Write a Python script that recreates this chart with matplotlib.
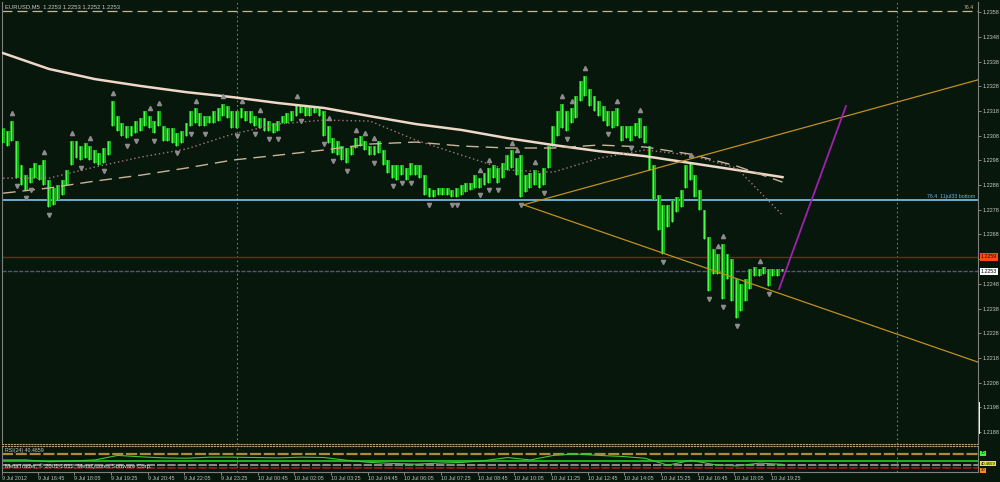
import matplotlib
matplotlib.use("Agg")
import matplotlib.pyplot as plt
import matplotlib.transforms as mtransforms
import numpy as np

plt.rcParams['font.family'] = ['Liberation Sans', 'DejaVu Sans']

# EURUSD M5, bar offsets counted from 10 Jul 2012 00:00
first_bar = -102
bar_step = 2  # one entry per 10 minutes

highs = [1.2311, 1.2310, 1.2314, 1.2306, 1.2296, 1.2292, 1.2295, 1.2297, 1.2296, 1.2298,
         1.2290, 1.2287, 1.2288, 1.2290, 1.2294, 1.2306, 1.2306, 1.2304, 1.2305, 1.2304,
         1.2302, 1.2301, 1.2303, 1.2306, 1.2322, 1.2316, 1.2313, 1.2312, 1.2312, 1.2314,
         1.2315, 1.2318, 1.2316, 1.2314, 1.2318, 1.2312, 1.2311, 1.2311, 1.2309, 1.2310,
         1.2313, 1.2318, 1.2319, 1.2317, 1.2316, 1.2316, 1.2318, 1.2319, 1.2321, 1.2320,
         1.2318, 1.2318, 1.2319, 1.2318, 1.2318, 1.2316, 1.2315, 1.2315, 1.2314, 1.2313,
         1.2314, 1.2316, 1.2317, 1.2318, 1.2321, 1.2320, 1.2320, 1.2320, 1.2320, 1.2319,
         1.2318, 1.2312, 1.2307, 1.2306, 1.2304, 1.2303, 1.2304, 1.2307, 1.2308, 1.2306,
         1.2304, 1.2304, 1.2306, 1.2302, 1.2298, 1.2296, 1.2296, 1.2296, 1.2295, 1.2297,
         1.2296, 1.2296, 1.2292, 1.2287, 1.2286, 1.2287, 1.2287, 1.2287, 1.2286, 1.2287,
         1.2288, 1.2289, 1.2289, 1.2292, 1.2291, 1.2293, 1.2295, 1.2296, 1.2295, 1.2297,
         1.2300, 1.2302, 1.2299, 1.2300, 1.2292, 1.2293, 1.2294, 1.2293, 1.2295, 1.2304,
         1.2312, 1.2318, 1.2321, 1.2318, 1.2319, 1.2324, 1.2330, 1.2332, 1.2327, 1.2324,
         1.2322, 1.2320, 1.2318, 1.2318, 1.2319, 1.2312, 1.2312, 1.2312, 1.2313, 1.2315,
         1.2312, 1.2304, 1.2296, 1.2284, 1.2280, 1.2280, 1.2282, 1.2283, 1.2286, 1.2296,
         1.2297, 1.2292, 1.2286, 1.2278, 1.2267, 1.2262, 1.2260, 1.2264, 1.2260, 1.2258,
         1.2250, 1.2248, 1.2250, 1.2254, 1.2255, 1.2254, 1.2255, 1.2254, 1.2254, 1.2254,
         1.2254]
lows = [1.2305, 1.2304, 1.2306, 1.2291, 1.2288, 1.2286, 1.2289, 1.2291, 1.2290, 1.2288,
        1.2279, 1.2280, 1.2282, 1.2284, 1.2288, 1.2296, 1.2299, 1.2298, 1.2299, 1.2298,
        1.2297, 1.2296, 1.2297, 1.2300, 1.2312, 1.2310, 1.2308, 1.2307, 1.2308, 1.2309,
        1.2310, 1.2312, 1.2311, 1.2309, 1.2312, 1.2306, 1.2306, 1.2305, 1.2304, 1.2305,
        1.2308, 1.2312, 1.2313, 1.2312, 1.2312, 1.2313, 1.2313, 1.2314, 1.2316, 1.2315,
        1.2311, 1.2311, 1.2315, 1.2314, 1.2313, 1.2312, 1.2311, 1.2310, 1.2310, 1.2309,
        1.2310, 1.2313, 1.2313, 1.2314, 1.2316, 1.2317, 1.2316, 1.2316, 1.2317, 1.2316,
        1.2308, 1.2305, 1.2301, 1.2300, 1.2298, 1.2297, 1.2300, 1.2303, 1.2304, 1.2302,
        1.2300, 1.2300, 1.2301, 1.2296, 1.2293, 1.2291, 1.2290, 1.2292, 1.2290, 1.2292,
        1.2292, 1.2291, 1.2284, 1.2283, 1.2283, 1.2284, 1.2284, 1.2284, 1.2283, 1.2283,
        1.2284, 1.2285, 1.2286, 1.2287, 1.2287, 1.2288, 1.2289, 1.2291, 1.2289, 1.2291,
        1.2294, 1.2295, 1.2292, 1.2283, 1.2285, 1.2287, 1.2288, 1.2287, 1.2288, 1.2295,
        1.2304, 1.2308, 1.2311, 1.2310, 1.2313, 1.2315, 1.2322, 1.2324, 1.2320, 1.2318,
        1.2316, 1.2314, 1.2312, 1.2311, 1.2312, 1.2306, 1.2307, 1.2306, 1.2308, 1.2307,
        1.2305, 1.2294, 1.2282, 1.2270, 1.2260, 1.2271, 1.2273, 1.2277, 1.2279, 1.2287,
        1.2290, 1.2283, 1.2278, 1.2266, 1.2245, 1.2252, 1.2252, 1.2242, 1.2250, 1.2241,
        1.2234, 1.2237, 1.2241, 1.2246, 1.2251, 1.2251, 1.2252, 1.2247, 1.2251, 1.2251,
        1.2253]

# moving averages, one sample every 10 entries
ma_step = 10
ma_slow = [1.23414, 1.23350, 1.23309, 1.23281, 1.23256, 1.23236, 1.23212, 1.23192, 1.23159,
           1.23127, 1.23103, 1.23070, 1.23042, 1.23017, 1.22997, 1.22969, 1.22941, 1.22912]
ma_mid = [1.22847, 1.22868, 1.22896, 1.22920, 1.22949, 1.22981, 1.23001, 1.23022, 1.23046,
          1.23054, 1.23038, 1.23030, 1.23030, 1.23042, 1.23034, 1.23005, 1.22957, 1.22892]
ma_fast = [1.22908, 1.22908, 1.22953, 1.22993, 1.23026, 1.23086, 1.23127, 1.23143, 1.23139,
           1.23062, 1.23001, 1.22941, 1.22932, 1.22989, 1.23022, 1.23001, 1.22949, 1.22758]

# RSI(24), one sample every 5 entries
rsi_step = 5
rsi_vals = [53, 53, 48, 50, 53, 66, 62, 59, 58, 61, 61, 60, 59, 61, 60, 52, 46, 43,
            41, 44, 46, 51, 60, 53, 66, 70, 66, 63, 58, 38, 52, 40, 36, 44, 40.47]

# fractal marks (entry indices)
up_fractals = [2, 9, 15, 19, 24, 32, 34, 42, 48, 52, 56, 64, 71, 77, 79, 81, 104, 106,
               111, 112, 116, 122, 124, 127, 134, 139, 150, 156, 157, 165]
down_fractals = [3, 5, 6, 10, 17, 22, 27, 29, 33, 38, 41, 44, 51, 55, 58, 60, 65, 70, 72,
                 75, 81, 85, 87, 89, 93, 98, 99, 104, 106, 108, 113, 118, 123, 132, 137,
                 144, 154, 157, 160, 167]

# drawn objects: (bar, price) anchors
trend_up = [(125, 1.22800), (290, 1.23221)]
trend_down = [(125, 1.22800), (290, 1.22270)]
projection = [(236.5, 1.22459), (265.7, 1.23200)]
level_764 = 1.22819
level_red = 1.22589
bid = 1.2253
fib_top = 1.23585
day_breaks = [0, 288]

price_ticks = [1.2358, 1.2348, 1.2338, 1.2328, 1.2318, 1.2308, 1.2298, 1.2288, 1.2278,
               1.2268, 1.2258, 1.2248, 1.2238, 1.2228, 1.2218, 1.2208, 1.2198, 1.2188]
time_bars = [-102.3, -87, -71, -55, -39, -23, -7, 9, 25, 41, 57, 73, 89, 105, 121, 137,
             153, 169, 185, 201, 217, 233]
time_labels = ['9 Jul 2012', '9 Jul 16:45', '9 Jul 18:05', '9 Jul 19:25', '9 Jul 20:45',
               '9 Jul 22:05', '9 Jul 23:25', '10 Jul 00:45', '10 Jul 02:05', '10 Jul 03:25',
               '10 Jul 04:45', '10 Jul 06:05', '10 Jul 07:25', '10 Jul 08:45', '10 Jul 10:05',
               '10 Jul 11:25', '10 Jul 12:45', '10 Jul 14:05', '10 Jul 15:25', '10 Jul 16:45',
               '10 Jul 18:05', '10 Jul 19:25']

bg = '#07170c'
grey = '#808080'
txt = '#c8c8c8'

fig = plt.figure(figsize=(10, 4.82), dpi=100, facecolor=bg)
ax = fig.add_axes([0.002, 38 / 482, 0.976, 442 / 482], facecolor=bg)
rax = fig.add_axes([0.002, 10 / 482, 0.976, 26 / 482], facecolor=bg, sharex=ax)

# price bars
xs = first_bar + bar_step * np.arange(len(highs))
hi = np.array(highs)
lo = np.array(lows)
ax.bar(xs, hi - lo, bottom=lo, width=1.7, color='#1aa81a', lw=0, zorder=3)
ax.vlines(xs - 0.4, lo, hi, color='#4cff4c', lw=0.7, zorder=4)

# moving averages
ma_x = first_bar + bar_step * ma_step * np.arange(len(ma_slow))
ax.plot(ma_x, ma_slow, color='#efd8c8', lw=1.8, zorder=5)
ax.plot(ma_x, ma_mid, color='#c9b49a', lw=1.0, ls=(0, (9, 5)), zorder=5)
ax.plot(ma_x, ma_fast, color='#a8787a', lw=1.0, ls=(0, (1, 2)), zorder=5)

# fractals
ax.plot(xs[up_fractals], hi[up_fractals] + 0.00032, ls='none', marker='^', ms=3.0,
        color='#8e8a8e', zorder=6)
ax.plot(xs[down_fractals], lo[down_fractals] - 0.00032, ls='none', marker='v', ms=3.0,
        color='#8e8a8e', zorder=6)

# horizontal levels
ax.axhline(fib_top, color='#c8b890', lw=0.9, ls=(0, (8, 4)), zorder=2)
ax.axhline(level_764, color='#7ec8f0', lw=1.2, zorder=2)
ax.axhline(level_red, color='#8b1a1a', lw=1.0, zorder=2)
ax.axhline(bid, color='#55557a', lw=1.0, ls=(0, (3, 1)), zorder=2)
for d in day_breaks:
    ax.axvline(d, color='#9a6a78', lw=0.8, ls=(0, (1.5, 2.5)), zorder=1)
    rax.axvline(d, color='#9a6a78', lw=0.8, ls=(0, (1.5, 2.5)), zorder=1)

# trend lines (rays to the right edge)
x_right = 323.3
for (b0, p0), (b1, p1) in (trend_up, trend_down):
    slope = (p1 - p0) / (b1 - b0)
    ax.plot([b0, x_right], [p0, p0 + slope * (x_right - b0)], color='#c09020', lw=0.9, zorder=7)
ax.plot([projection[0][0], projection[1][0]], [projection[0][1], projection[1][1]],
        color='#a020b0', lw=1.3, zorder=7)

ax.set_xlim(-102.5, x_right)
ax.set_ylim(1.218316, 1.236211)

ax.yaxis.tick_right()
ax.set_yticks(price_ticks)
# the 1.2258 label sits under the red price box
ax.set_yticklabels(['' if t == 1.2258 else '%.4f' % t for t in price_ticks])
ax.tick_params(axis='y', length=2, width=0.6, color='#9a9a9a', labelcolor=txt,
               labelsize=4, pad=1.5)
ax.tick_params(axis='x', bottom=False, labelbottom=False)
for s in ax.spines.values():
    s.set_color(grey)
    s.set_linewidth(0.8)
ax.spines['top'].set_visible(False)
ax.spines['bottom'].set_color('#b0a080')
ax.spines['bottom'].set_linestyle(':')

trans = mtransforms.blended_transform_factory(ax.transAxes, ax.transData)
ax.text(1.003, level_red, '1.2259', transform=trans, ha='left', va='center', fontsize=3.8,
        color='#3a0000', bbox=dict(boxstyle='square,pad=0.25', fc='#ff4a12', ec='none'),
        clip_on=False, zorder=10)
ax.text(1.003, bid, '1.2253', transform=trans, ha='left', va='center', fontsize=3.8,
        color='black', bbox=dict(boxstyle='square,pad=0.25', fc='white', ec='none'),
        clip_on=False, zorder=10)
ax.plot([1.0015, 1.0015], [1.21998, 1.21876], transform=trans, color='white', lw=1.4,
        clip_on=False)

ax.text(0.003, 0.995, 'EURUSD,M5  1.2253 1.2253 1.2252 1.2253', transform=ax.transAxes,
        va='top', ha='left', fontsize=4.2, color=txt)
ax.text(0.996, fib_top + 0.00005, '76.4', transform=trans, ha='right', va='bottom',
        fontsize=3.8, color='#c8b890')
ax.text(0.997, level_764 + 0.00005, '76.4  11jul33 bottom', transform=trans, ha='right',
        va='bottom', fontsize=3.8, color='#7eb0e0')

# RSI window
rax.set_ylim(18.6, 92.9)
rsi_x = first_bar + bar_step * rsi_step * np.arange(len(rsi_vals))
rax.axhline(70, color='#b08a3a', lw=1.6, ls=(0, (5, 1.2)))
rax.axhline(50, color='#22d022', lw=1.2)
rax.axhline(40, color='#a0a0a0', lw=1.2, ls=(0, (5, 1.2)))
rax.axhline(30, color='#9a1c1c', lw=1.2, ls=(0, (5, 1.2)))
rax.plot(rsi_x, rsi_vals, color='#3acb3a', lw=0.8)
rax.text(0.003, 0.93, 'RSI(24) 40.4659', transform=rax.transAxes, va='top', ha='left',
         fontsize=3.8, color=txt)
rax.text(0.003, 0.23, 'MetaTrader, \u00a9 2001-2012, MetaQuotes Software Corp.',
         transform=rax.transAxes, va='center', ha='left', fontsize=4.3, color='#dcdcdc')

rtrans = mtransforms.blended_transform_factory(rax.transAxes, rax.transData)
for val, label, fc in [(72, '70', '#33ff33'), (42, '40.4659', '#e8e830'),
                       (24, '30', '#ff8c1a')]:
    rax.text(1.003, val, label, transform=rtrans, ha='left', va='center', fontsize=3.0,
             color='black', bbox=dict(boxstyle='square,pad=0.12', fc=fc, ec='none'),
             clip_on=False)

rax.set_yticks([])
rax.set_xticks(time_bars)
rax.set_xticklabels(time_labels, fontsize=3.9, color='#c0c0c0', ha='left')
rax.tick_params(axis='x', length=2, width=0.6, color='#9a9a9a', pad=1)
for s in rax.spines.values():
    s.set_color(grey)
    s.set_linewidth(0.8)
rax.spines['top'].set_color('#b0a080')
rax.spines['top'].set_linestyle(':')

fig.savefig('out.png', dpi=100, facecolor=bg)
